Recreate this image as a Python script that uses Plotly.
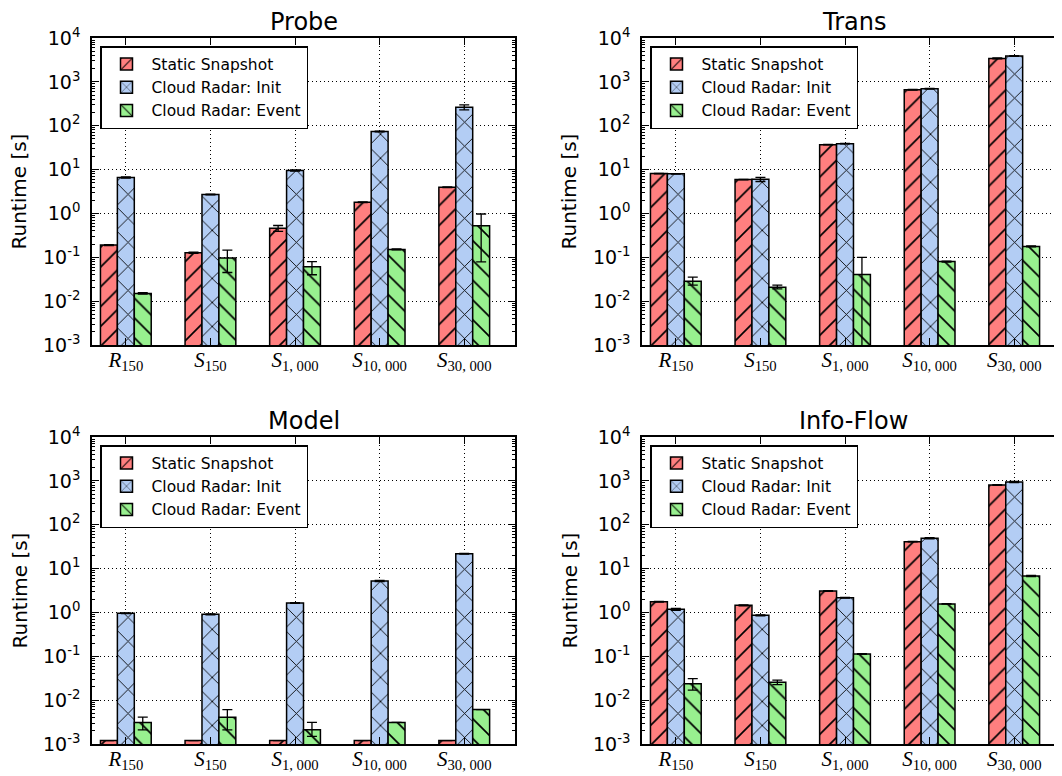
import plotly.graph_objects as go

# ---------------- data ----------------
categories = ["<i>R</i><sub>150</sub>", "<i>S</i><sub>150</sub>", "<i>S</i><sub>1, 000</sub>",
              "<i>S</i><sub>10, 000</sub>", "<i>S</i><sub>30, 000</sub>"]
series_names = ["Static Snapshot", "Cloud Radar: Init", "Cloud Radar: Event"]
panel_titles = ["Probe", "Trans", "Model", "Info-Flow"]

# Probe
probe_static = [0.19, 0.127, 0.46, 1.79, 3.94]
probe_static_err = [0.005, 0.004, 0.07, 0.03, 0.08]
probe_init = [6.6, 2.7, 9.5, 73.7, 265]
probe_init_err = [0.2, 0.06, 0.3, 1.5, 35]
probe_event = [0.015, 0.096, 0.061, 0.151, 0.525]
probe_event_errp = [0.0006, 0.05, 0.019, 0.004, 0.445]
probe_event_errm = [0.0006, 0.051, 0.021, 0.004, 0.446]

# Trans
trans_static = [8.1, 5.9, 37, 660, 3430]
trans_static_err = [0.1, 0.1, 0.5, 10, 80]
trans_init = [8.0, 6.0, 39, 695, 3880]
trans_init_err = [0.1, 0.65, 0.5, 10, 80]
trans_event = [0.0285, 0.0208, 0.0405, 0.080, 0.177]
trans_event_errp = [0.0067, 0.0023, 0.059, 0.002, 0.004]
trans_event_errm = [0.0054, 0.0018, 0.0397, 0.002, 0.004]

# Model
model_static = [0.0012, 0.0012, 0.0012, 0.0012, 0.0012]
model_static_err = [0.0, 0.0, 0.0, 0.0, 0.0]
model_init = [0.955, 0.906, 1.64, 5.2, 21.9]
model_init_err = [0.02, 0.02, 0.03, 0.15, 0.4]
model_event = [0.0031, 0.0041, 0.0021, 0.0031, 0.0061]
model_event_errp = [0.001, 0.002, 0.001, 0.0, 0.0]
model_event_errm = [0.001, 0.002, 0.0006, 0.0, 0.0]

# Info-Flow
info_static = [1.76, 1.45, 3.08, 41, 805]
info_static_err = [0.03, 0.03, 0.05, 0.5, 15]
info_init = [1.18, 0.86, 2.17, 49, 942]
info_init_err = [0.06, 0.02, 0.04, 1.5, 30]
info_event = [0.0238, 0.0255, 0.113, 1.56, 6.8]
info_event_errp = [0.0072, 0.003, 0.002, 0.02, 0.2]
info_event_errm = [0.0068, 0.003, 0.002, 0.02, 0.2]

y_tickvals = [1e-3, 1e-2, 1e-1, 1e0, 1e1, 1e2, 1e3, 1e4]
y_ticktext = ["10<sup>-3</sup>", "10<sup>-2</sup>", "10<sup>-1</sup>", "10<sup>0</sup>",
              "10<sup>1</sup>", "10<sup>2</sup>", "10<sup>3</sup>", "10<sup>4</sup>"]
y_minor = [m * 10.0 ** e for e in range(-3, 4) for m in range(2, 10)]

# ---------------- styling ----------------
colors = ["#FF7F7F", "#B3CDF4", "#98F08F"]
shapes = ["/", "x", "\\"]
pat_sizes = [14, 17, 14]
pat_solid = [0.12, 0.10, 0.12]
OFF = 8                      # default body margin of the html page
W, H = 1062 - OFF, 776 - OFF
SANS = "DejaVu Sans"
SERIF = "Liberation Serif"

panels = [
    (probe_static, probe_static_err, probe_static_err, probe_init, probe_init_err, probe_init_err,
     probe_event, probe_event_errp, probe_event_errm),
    (trans_static, trans_static_err, trans_static_err, trans_init, trans_init_err, trans_init_err,
     trans_event, trans_event_errp, trans_event_errm),
    (model_static, model_static_err, model_static_err, model_init, model_init_err, model_init_err,
     model_event, model_event_errp, model_event_errm),
    (info_static, info_static_err, info_static_err, info_init, info_init_err, info_init_err,
     info_event, info_event_errp, info_event_errm),
]

# page-pixel boxes (left, right, top, bottom) and x ranges
boxes = [(92, 515, 38, 345), (642, 1062, 38, 345), (92, 515, 437, 744), (642, 1062, 437, 744)]
xranges = [[-0.4, 4.6], [-0.4, 4.565], [-0.4, 4.6], [-0.4, 4.565]]


def px(x):
    return (x - OFF) / W


def py(y):
    return 1 - (y - OFF) / H


fig = go.Figure()
layout = dict(
    template="none",
    width=W, height=H, margin=dict(l=0, r=0, t=0, b=0, pad=0, autoexpand=False),
    paper_bgcolor="white", plot_bgcolor="white",
    barmode="group", bargap=0.4, bargroupgap=0.0,
    font=dict(family=SANS, color="black"),
    annotations=[],
)

for p, data in enumerate(panels):
    sfx = "" if p == 0 else str(p + 1)
    xa, ya = "x" + sfx, "y" + sfx
    legname = "legend" + sfx
    vals = [(data[0], data[1], data[2]), (data[3], data[4], data[5]), (data[6], data[7], data[8])]
    for s, (v, ep, em) in enumerate(vals):
        fig.add_trace(go.Bar(
            x=categories, y=v, name=series_names[s], xaxis=xa, yaxis=ya,
            legend=legname,
            marker=dict(color=colors[s], line=dict(color="black", width=1.5),
                        pattern=dict(shape=shapes[s], fgcolor="black", bgcolor=colors[s],
                                     fgopacity=1.0, size=pat_sizes[s], solidity=pat_solid[s],
                                     fillmode="overlay")),
            error_y=dict(type="data", array=ep, arrayminus=em, symmetric=False,
                         color="black", thickness=1.3, width=5),
        ))
    l, r, t, b = boxes[p]
    layout["xaxis" + sfx] = dict(
        domain=[px(l), min(px(r), 1.0)], anchor=ya, range=xranges[p], type="category",
        automargin=False,
        showline=True, linecolor="black", linewidth=1.5, mirror="allticks",
        ticks="inside", ticklen=7, tickcolor="black", tickwidth=1,
        showgrid=True, gridcolor="black", gridwidth=1, griddash="1px,3px",
        tickfont=dict(family=SERIF, size=21, color="black"), ticklabelstandoff=-5,
        zeroline=False,
    )
    layout["yaxis" + sfx] = dict(
        domain=[py(b), py(t)], anchor=xa, type="log", range=[-3, 4],
        automargin=False,
        tickmode="array", tickvals=y_tickvals, ticktext=y_ticktext,
        showline=True, linecolor="black", linewidth=1.5, mirror="allticks",
        ticks="inside", ticklen=7, tickcolor="black", tickwidth=1,
        minor=dict(tickmode="array", tickvals=y_minor, ticks="inside", ticklen=3.5,
                   tickcolor="black", tickwidth=1, showgrid=False),
        showgrid=True, gridcolor="black", gridwidth=1, griddash="1px,3px",
        tickfont=dict(family=SANS, size=19, color="black"), ticklabelstandoff=6,
        zeroline=False,
    )
    layout[legname] = dict(
        x=px(l + 8), y=py(t + 8), xanchor="left", yanchor="top",
        bgcolor="white", bordercolor="black", borderwidth=1.5,
        font=dict(family=SANS, size=15.5, color="black"),
        itemwidth=40, tracegroupgap=0,
    )
    layout["annotations"].append(dict(
        text=panel_titles[p], x=px(l + (515 - 92) / 2), y=py(t - 16),
        xref="paper", yref="paper", xanchor="center", yanchor="middle",
        showarrow=False, font=dict(family=SANS, size=24, color="black")))
    layout["annotations"].append(dict(
        text="Runtime [s]", x=px(l - 73), y=py((t + b) / 2),
        xref="paper", yref="paper", xanchor="center", yanchor="middle",
        textangle=-90, showarrow=False, font=dict(family=SANS, size=20, color="black")))

fig.update_layout(**layout)
fig.write_html("out.html")
